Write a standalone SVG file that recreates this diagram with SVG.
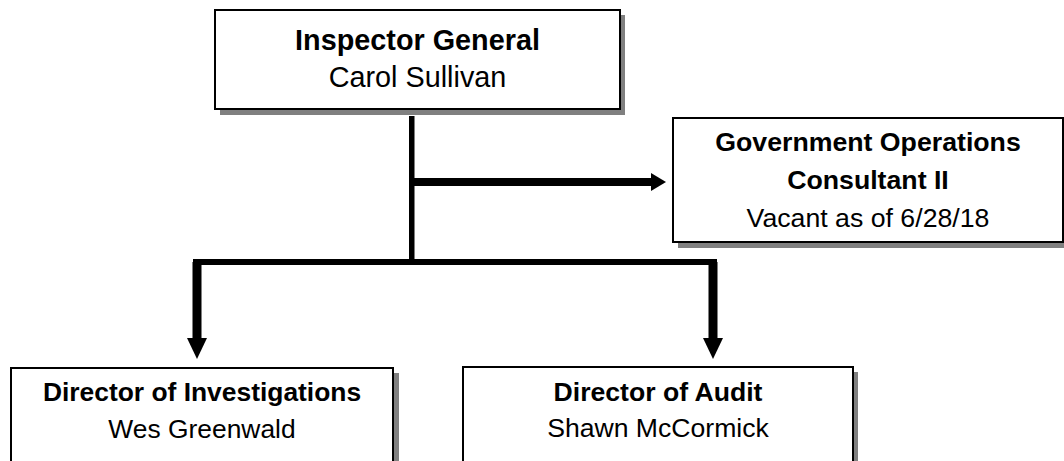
<svg xmlns="http://www.w3.org/2000/svg" width="1064" height="461" viewBox="0 0 1064 461">
<style>
.box{fill:#fff;stroke:#000;stroke-width:2}
.shadow{fill:#808080}
.t{font-family:"Liberation Sans",Arial,sans-serif;text-anchor:middle;fill:#000}
.b{font-weight:bold}
.ln{fill:#000}
</style>
<rect width="1064" height="461" fill="#fff"/>
<g id="connectors">
<rect class="ln" x="409" y="116" width="5.5" height="149"/>
<rect class="ln" x="193" y="259" width="524" height="6"/>
<rect class="ln" x="411" y="178" width="241" height="8"/>
<polygon class="ln" points="651,173 666,182 651,191"/>
<rect class="ln" x="192.5" y="262" width="9" height="78"/>
<polygon class="ln" points="187,338 207,338 197,359"/>
<rect class="ln" x="708.5" y="262" width="9" height="78"/>
<polygon class="ln" points="703,338 723,338 713,359"/>
</g>
<g id="inspector-general">
<rect class="shadow" x="220" y="15" width="405" height="100"/>
<rect class="box" x="215" y="10" width="405" height="99"/>
<text class="t b" x="417.5" y="50" font-size="28.8">Inspector General</text>
<text class="t" x="417.5" y="87" font-size="28.8">Carol Sullivan</text>
</g>
<g id="gov-ops-consultant">
<rect class="shadow" x="678" y="123" width="390" height="125"/>
<rect class="box" x="673" y="118" width="390" height="124"/>
<text class="t b" x="868" y="151" font-size="26.7">Government Operations</text>
<text class="t b" x="868" y="189" font-size="26.7">Consultant II</text>
<text class="t" x="868" y="227" font-size="26.7">Vacant as of 6/28/18</text>
</g>
<g id="director-investigations">
<rect class="shadow" x="16" y="373" width="383" height="100"/>
<rect class="box" x="11" y="368" width="382" height="100"/>
<text class="t b" x="202" y="401" font-size="26.4">Director of Investigations</text>
<text class="t" x="202" y="438" font-size="26.4">Wes Greenwald</text>
</g>
<g id="director-audit">
<rect class="shadow" x="468" y="372" width="390" height="100"/>
<rect class="box" x="463" y="367" width="390" height="100"/>
<text class="t b" x="658" y="401" font-size="26.6">Director of Audit</text>
<text class="t" x="658" y="437" font-size="26.6">Shawn McCormick</text>
</g>
</svg>
